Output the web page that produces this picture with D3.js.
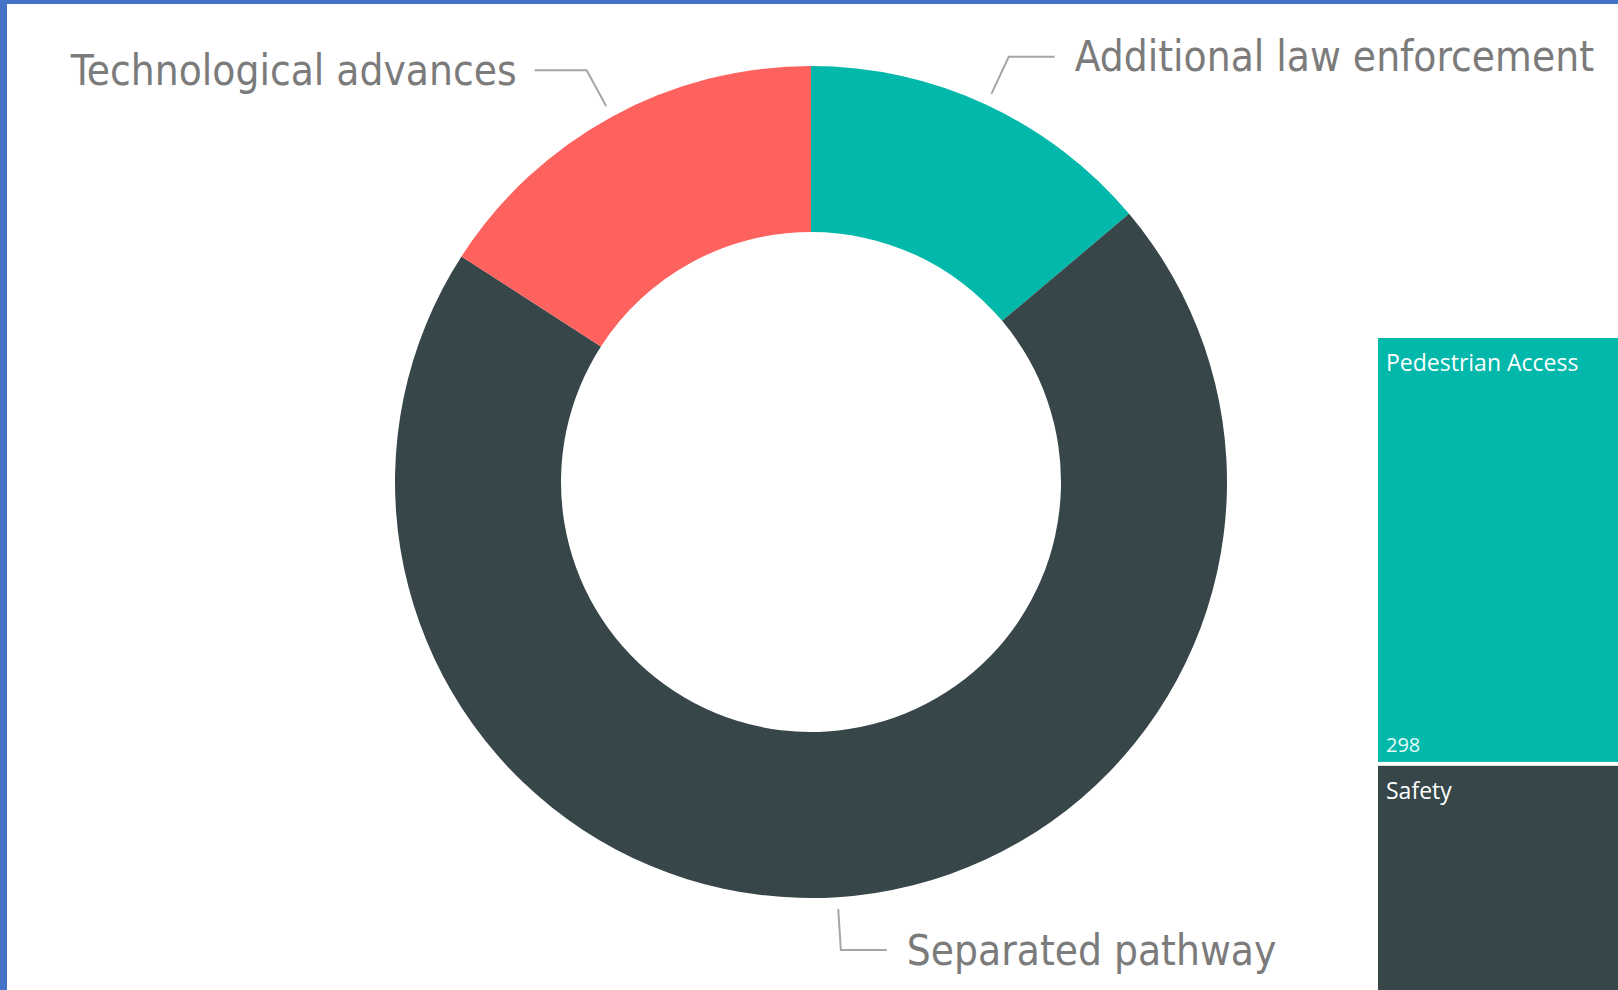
<html>
<head>
  <style>
    body { margin: 0; background: #fff; overflow: hidden; }
    svg { display: block; }
  </style>
</head>
<body>
  <svg id="chart"></svg>
  <script src="https://cdn.jsdelivr.net/npm/d3@7"></script>
  <script>
    // donut data
    var categories = ["Additional law enforcement", "Separated pathway", "Technological advances"];
    var counts = [41, 208, 47];
    var sliceColors = ["#01B8AA", "#374649", "#FD625E"];

    // treemap data
    var tileNames = ["Pedestrian Access", "Safety"];
    var tileValues = [298, 262];
    var tileColors = ["#01B8AA", "#374649"];

    var width = 1618, height = 990;
    var cx = 811, cy = 482;
    var outerR = 416, innerR = 250;

    var svg = d3.select("#chart").attr("width", width).attr("height", height);

    // blue frame, left and top
    svg.append("rect").attr("x", 0).attr("y", 0).attr("width", width).attr("height", 4).attr("fill", "#4472C4");
    svg.append("rect").attr("x", 0).attr("y", 0).attr("width", 7).attr("height", height).attr("fill", "#4472C4");

    var pieData = d3.pie().sort(null).value(function (d) { return d.value; })(
      categories.map(function (c, i) { return { name: c, value: counts[i], color: sliceColors[i] }; })
    );

    var arc = d3.arc().innerRadius(innerR).outerRadius(outerR);
    var donut = svg.append("g").attr("transform", "translate(" + cx + "," + cy + ")");

    donut.selectAll("path")
      .data(pieData)
      .join("path")
      .attr("d", arc)
      .attr("fill", function (d) { return d.data.color; });

    // leader lines + labels
    function polar(r, a) { return [r * Math.sin(a), -r * Math.cos(a)]; }

    var labels = donut.append("g");
    pieData.forEach(function (d) {
      var mid = (d.startAngle + d.endAngle) / 2;
      var p0 = polar(outerR + 12, mid);
      var p1 = polar(outerR + 53, mid);
      var right = Math.sin(mid) >= 0;
      var p2 = [p1[0] + (right ? 46 : -52), p1[1]];
      labels.append("path")
        .attr("d", d3.line()([p0, p1, p2]))
        .attr("fill", "none")
        .attr("stroke", "#a6a6a6")
        .attr("stroke-width", 2);
      labels.append("text")
        .attr("x", p2[0] + (right ? 20 : -18))
        .attr("y", p2[1])
        .attr("dy", "0.35em")
        .attr("text-anchor", right ? "start" : "end")
        .attr("font-family", "'DejaVu Sans Condensed', 'DejaVu Sans', sans-serif")
        .attr("font-size", 42)
        .attr("fill", "#7b7b7b")
        .text(d.data.name);
    });

    // treemap on the right (clipped by the page edge)
    var root = d3.hierarchy({ children: tileNames.map(function (n, i) { return { name: n, value: tileValues[i], color: tileColors[i] }; }) })
      .sum(function (d) { return d.value || 0; });
    d3.treemap().tile(d3.treemapSlice).size([300, 800]).paddingInner(4)(root);

    var tiles = svg.append("g").attr("transform", "translate(1378,338)")
      .selectAll("g")
      .data(root.leaves())
      .join("g")
      .attr("transform", function (d) { return "translate(" + d.x0 + "," + d.y0 + ")"; });

    tiles.append("rect")
      .attr("width", function (d) { return d.x1 - d.x0; })
      .attr("height", function (d) { return d.y1 - d.y0; })
      .attr("fill", function (d) { return d.data.color; });

    tiles.append("text")
      .attr("x", 8)
      .attr("y", 33)
      .attr("font-family", "'Open Sans', 'Noto Sans', sans-serif")
      .attr("font-size", 23)
      .attr("fill", "#ffffff")
      .text(function (d) { return d.data.name; });

    // value labels only for tiles whose bottom is on the page
    tiles.filter(function (d) { return 338 + d.y1 < height; })
      .append("text")
      .attr("x", 8)
      .attr("y", function (d) { return d.y1 - d.y0 - 10; })
      .attr("font-family", "'Open Sans', 'Noto Sans', sans-serif")
      .attr("font-size", 20)
      .attr("fill", "#e8fbf9")
      .text(function (d) { return d.data.value; });
  </script>
</body>
</html>
